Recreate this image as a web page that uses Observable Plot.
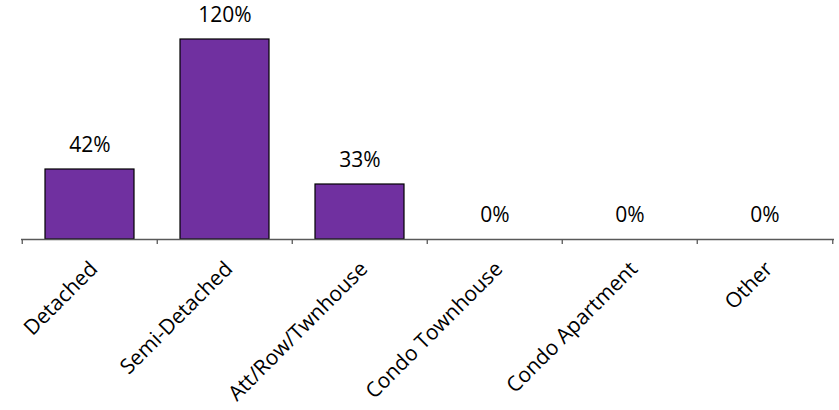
<!DOCTYPE html>
<html>
<head>
<meta charset="utf-8">
<script src="https://cdn.jsdelivr.net/npm/d3@7"></script>
<script src="https://cdn.jsdelivr.net/npm/@observablehq/plot@0.6"></script>
<style>
  html, body { margin: 0; padding: 0; background: #ffffff; }
  #chart svg { display: block; }
</style>
</head>
<body>
<div id="chart"></div>
<script>
const categories = ["Detached", "Semi-Detached", "Att/Row/Twnhouse", "Condo Townhouse", "Condo Apartment", "Other"];
const values = [42, 120, 33, 0, 0, 0];
const valueLabels = ["42%", "120%", "33%", "0%", "0%", "0%"];

const data = categories.map((c, i) => ({category: c, value: values[i], label: valueLabels[i]}));

const W = 839, H = 410;
const mL = 21, mR = 5, mT = 39, mB = 171;
const pIn = 0.34, pOut = 0.17;
const step = (W - mL - mR) / (categories.length - pIn + 2 * pOut);
const frameH = H - mT - mB;
const font = "'Open Sans', 'Noto Sans', sans-serif";

const chart = Plot.plot({
  width: W,
  height: H,
  marginLeft: mL,
  marginRight: mR,
  marginTop: mT,
  marginBottom: mB,
  style: {fontFamily: font, background: "#ffffff", color: "#000000"},
  x: {domain: categories, paddingInner: pIn, paddingOuter: pOut, axis: null},
  y: {domain: [0, 120], axis: null},
  marks: [
    Plot.barY(data, {x: "category", y: "value", fill: "#7030A0", stroke: "#000000", strokeWidth: 1.2}),
    Plot.ruleY([0], {stroke: "#595959", strokeWidth: 1.3}),
    Plot.tickX(categories, {x: d => d, dx: -step / 2, insetTop: frameH, insetBottom: -5, stroke: "#595959", strokeWidth: 1.3}),
    Plot.tickX(categories.slice(-1), {x: d => d, dx: step / 2, insetTop: frameH, insetBottom: -5, stroke: "#595959", strokeWidth: 1.3}),
    Plot.text(data, {x: "category", y: "value", text: "label", dy: -18, lineAnchor: "bottom", fontSize: 21, fill: "#000000"}),
    Plot.text(categories, {x: d => d, y: () => 0, text: d => d, rotate: -45, textAnchor: "end", lineAnchor: "middle", dx: 4, dy: 26, fontSize: 21, fill: "#000000"})
  ]
});
document.getElementById("chart").appendChild(chart);
</script>
</body>
</html>
